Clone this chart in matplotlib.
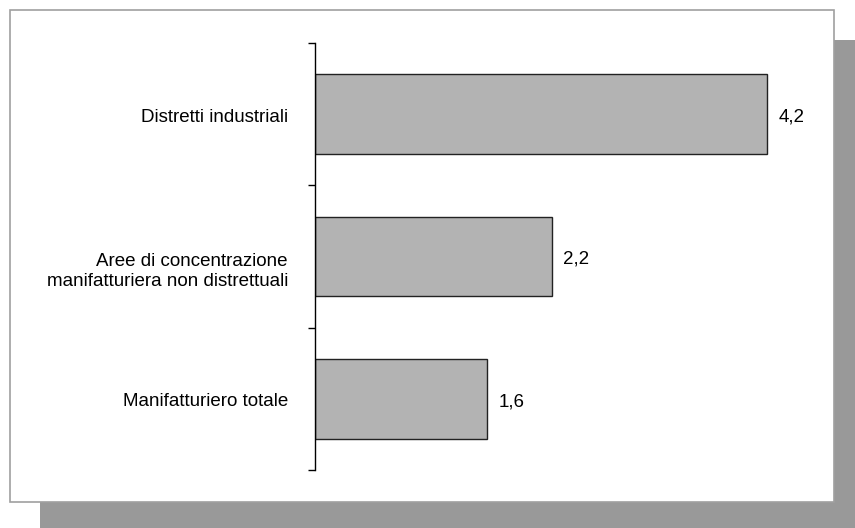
import matplotlib.pyplot as plt
from matplotlib.patches import Rectangle
from matplotlib.transforms import ScaledTranslation

categories = ['Manifatturiero totale',
              'Aree di concentrazione\nmanifatturiera non distrettuali',
              'Distretti industriali']
values = [1.6, 2.2, 4.2]
value_labels = ['1,6', '2,2', '4,2']

W, H = 855, 528
plt.rcParams['font.family'] = ['Liberation Sans', 'DejaVu Sans']

fig = plt.figure(figsize=(W / 100, H / 100), dpi=100)

# shadow and white frame behind the plot
fig.patches.append(Rectangle((40 / W, 0), (W - 40) / W, (H - 40) / H,
                             transform=fig.transFigure, facecolor='#999999',
                             edgecolor='none', zorder=0))
fig.patches.append(Rectangle((10 / W, (H - 502) / H), 824 / W, 492 / H,
                             transform=fig.transFigure, facecolor='white',
                             edgecolor='#a0a0a0', linewidth=1.2, zorder=1))

ax = fig.add_axes([315 / W, (H - 470) / H, 537.5 / W, 427 / H])
ax.set_facecolor('none')
ax.set_zorder(2)

pos = list(range(len(categories)))
ax.barh(pos, values, height=0.56, color='#b3b3b3', edgecolor='#222222',
        linewidth=1.0)
for p, v, lab in zip(pos, values, value_labels):
    ax.text(v + 0.11, p - 0.02, lab, va='center', ha='left', fontsize=13.5)

# category labels, sitting a little below the bar centre like the original
for p, cat in zip(pos, categories):
    nlines = cat.count('\n') + 1
    shift = (3 + 12 * (nlines - 1)) / 100
    off = ScaledTranslation(-27 / 100, -shift, fig.dpi_scale_trans)
    ax.text(0, p, cat, transform=ax.get_yaxis_transform() + off,
            ha='right', va='center', ma='right', fontsize=13.5,
            linespacing=1.3)

ax.set_xlim(0, 5)
ax.set_ylim(-0.5, len(categories) - 0.5)

ax.set_yticks([p - 0.5 for p in pos] + [pos[-1] + 0.5])
ax.set_yticklabels([])
ax.tick_params(axis='y', which='major', length=5, width=1, direction='out')
ax.set_xticks([])

for s in ['top', 'right', 'bottom']:
    ax.spines[s].set_visible(False)
ax.spines['left'].set_linewidth(1.0)

fig.savefig('out.png', dpi=100)
